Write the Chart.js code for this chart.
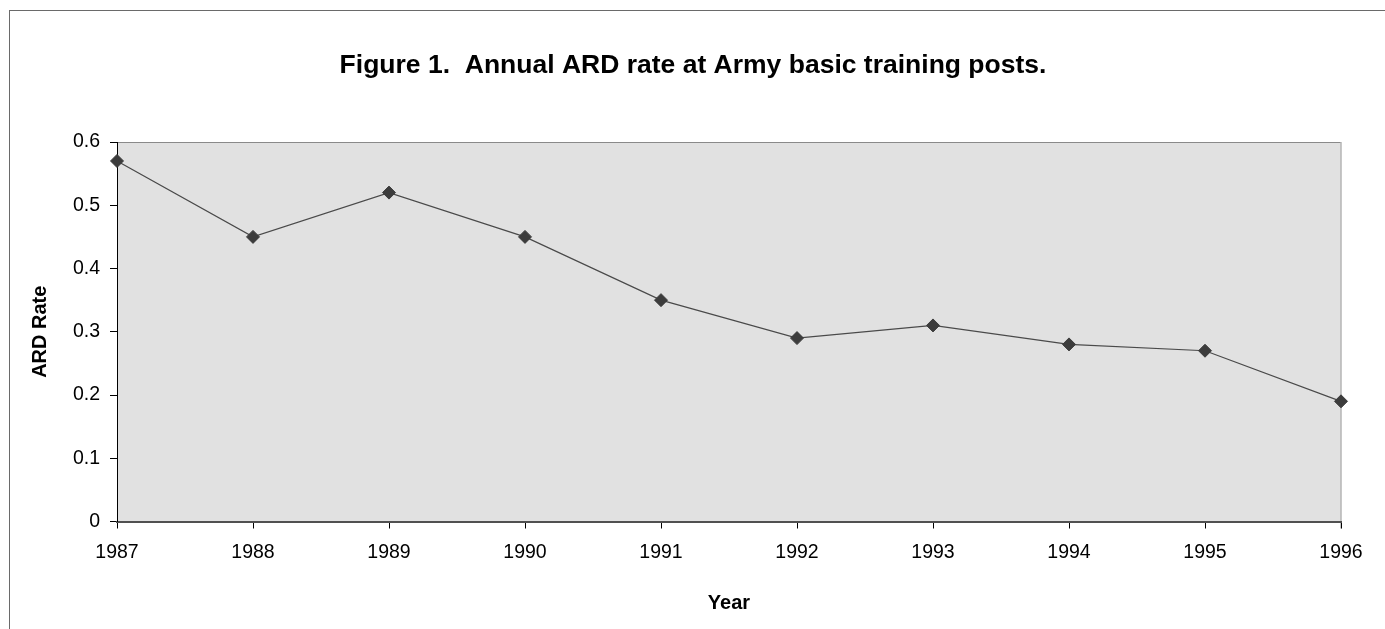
<!DOCTYPE html>
<html>
<head>
<meta charset="utf-8">
<script src="https://cdn.jsdelivr.net/npm/chart.js@4/dist/chart.umd.min.js"></script>
<style>
  html, body { margin: 0; padding: 0; background: #fff; }
  #wrap { width: 1385px; height: 629px; }
</style>
</head>
<body>
<div id="wrap"><canvas id="ardChart" width="1385" height="629"></canvas></div>
<script>
// values
var years = ["1987", "1988", "1989", "1990", "1991", "1992", "1993", "1994", "1995", "1996"];
var ardRate = [0.57, 0.45, 0.52, 0.45, 0.35, 0.29, 0.31, 0.28, 0.27, 0.19];
var yTicks = [0, 0.1, 0.2, 0.3, 0.4, 0.5, 0.6];

// gray plot area, light top/right edges and the outer frame
var frame = {
    id: "frame",
    beforeDraw: function (chart) {
        var c = chart.ctx, a = chart.chartArea;
        c.save();
        c.fillStyle = "#ffffff";
        c.fillRect(0, 0, chart.width, chart.height);
        c.strokeStyle = "#6a6a6a";
        c.lineWidth = 1;
        c.strokeRect(9.5, 10.5, chart.width + 20, chart.height + 20);
        c.fillStyle = "#e1e1e1";
        c.fillRect(a.left, a.top, a.right - a.left, a.bottom - a.top);
        c.strokeStyle = "#8a8a8a";
        c.beginPath();
        c.moveTo(a.left, a.top + 0.5);
        c.lineTo(a.right, a.top + 0.5);
        c.stroke();
        c.strokeStyle = "#b4b4b4";
        c.lineWidth = 1.5;
        c.beginPath();
        c.moveTo(a.right, a.top);
        c.lineTo(a.right, a.bottom + 7);
        c.stroke();
        c.restore();
    }
};

var fam = "Liberation Sans, Arial, sans-serif";

document.addEventListener("DOMContentLoaded", function () {
    var ctx = document.getElementById("ardChart").getContext("2d");

    new Chart(ctx, {
        type: "line",
        data: {
            labels: years,
            datasets: [{
                label: "ARD Rate",
                data: ardRate,
                borderColor: "#4a4a4a",
                borderWidth: 1.2,
                pointStyle: "rectRot",
                pointRadius: 6.5,
                pointBackgroundColor: "#3c3c3c",
                pointBorderColor: "#3c3c3c",
                pointBorderWidth: 1,
                tension: 0
            }]
        },
        options: {
            responsive: false,
            animation: false,
            layout: { padding: { left: 45, right: 44, top: 0, bottom: 0 } },
            plugins: {
                legend: { display: false },
                tooltip: { enabled: false },
                title: {
                    display: true,
                    text: "Figure 1.  Annual ARD rate at Army basic training posts.",
                    color: "#000",
                    font: { family: fam, size: 26.5, weight: "bold" },
                    padding: { top: 50, bottom: 60.2 }
                }
            },
            scales: {
                x: {
                    offset: false,
                    afterFit: function (s) { s.height = 107.5; },
                    grid: { drawOnChartArea: false, drawTicks: true, tickLength: 7, color: "#000" },
                    border: { display: true, color: "#505050", width: 2 },
                    ticks: {
                        color: "#000",
                        padding: 12,
                        maxRotation: 0,
                        font: { family: fam, size: 19.5 }
                    },
                    title: {
                        display: true,
                        text: "Year",
                        color: "#000",
                        font: { family: fam, size: 20, weight: "bold" },
                        padding: { top: 0, bottom: 14 }
                    }
                },
                y: {
                    min: 0,
                    max: 0.6,
                    afterFit: function (s) { s.width = 72; },
                    afterBuildTicks: function (s) { s.ticks = yTicks.map(function (v) { return { value: v }; }); },
                    grid: { drawOnChartArea: false, drawTicks: true, tickLength: 7, color: "#000" },
                    border: { display: true, color: "#000", width: 1 },
                    ticks: {
                        color: "#000",
                        padding: 10,
                        font: { family: fam, size: 19.5 },
                        callback: function (v) { return String(Math.round(v * 10) / 10); }
                    },
                    title: {
                        display: true,
                        text: "ARD Rate",
                        color: "#000",
                        font: { family: fam, size: 20, weight: "bold" },
                        padding: { top: -17, bottom: 0 }
                    }
                }
            }
        },
        plugins: [frame]
    });
});
</script>
</body>
</html>
